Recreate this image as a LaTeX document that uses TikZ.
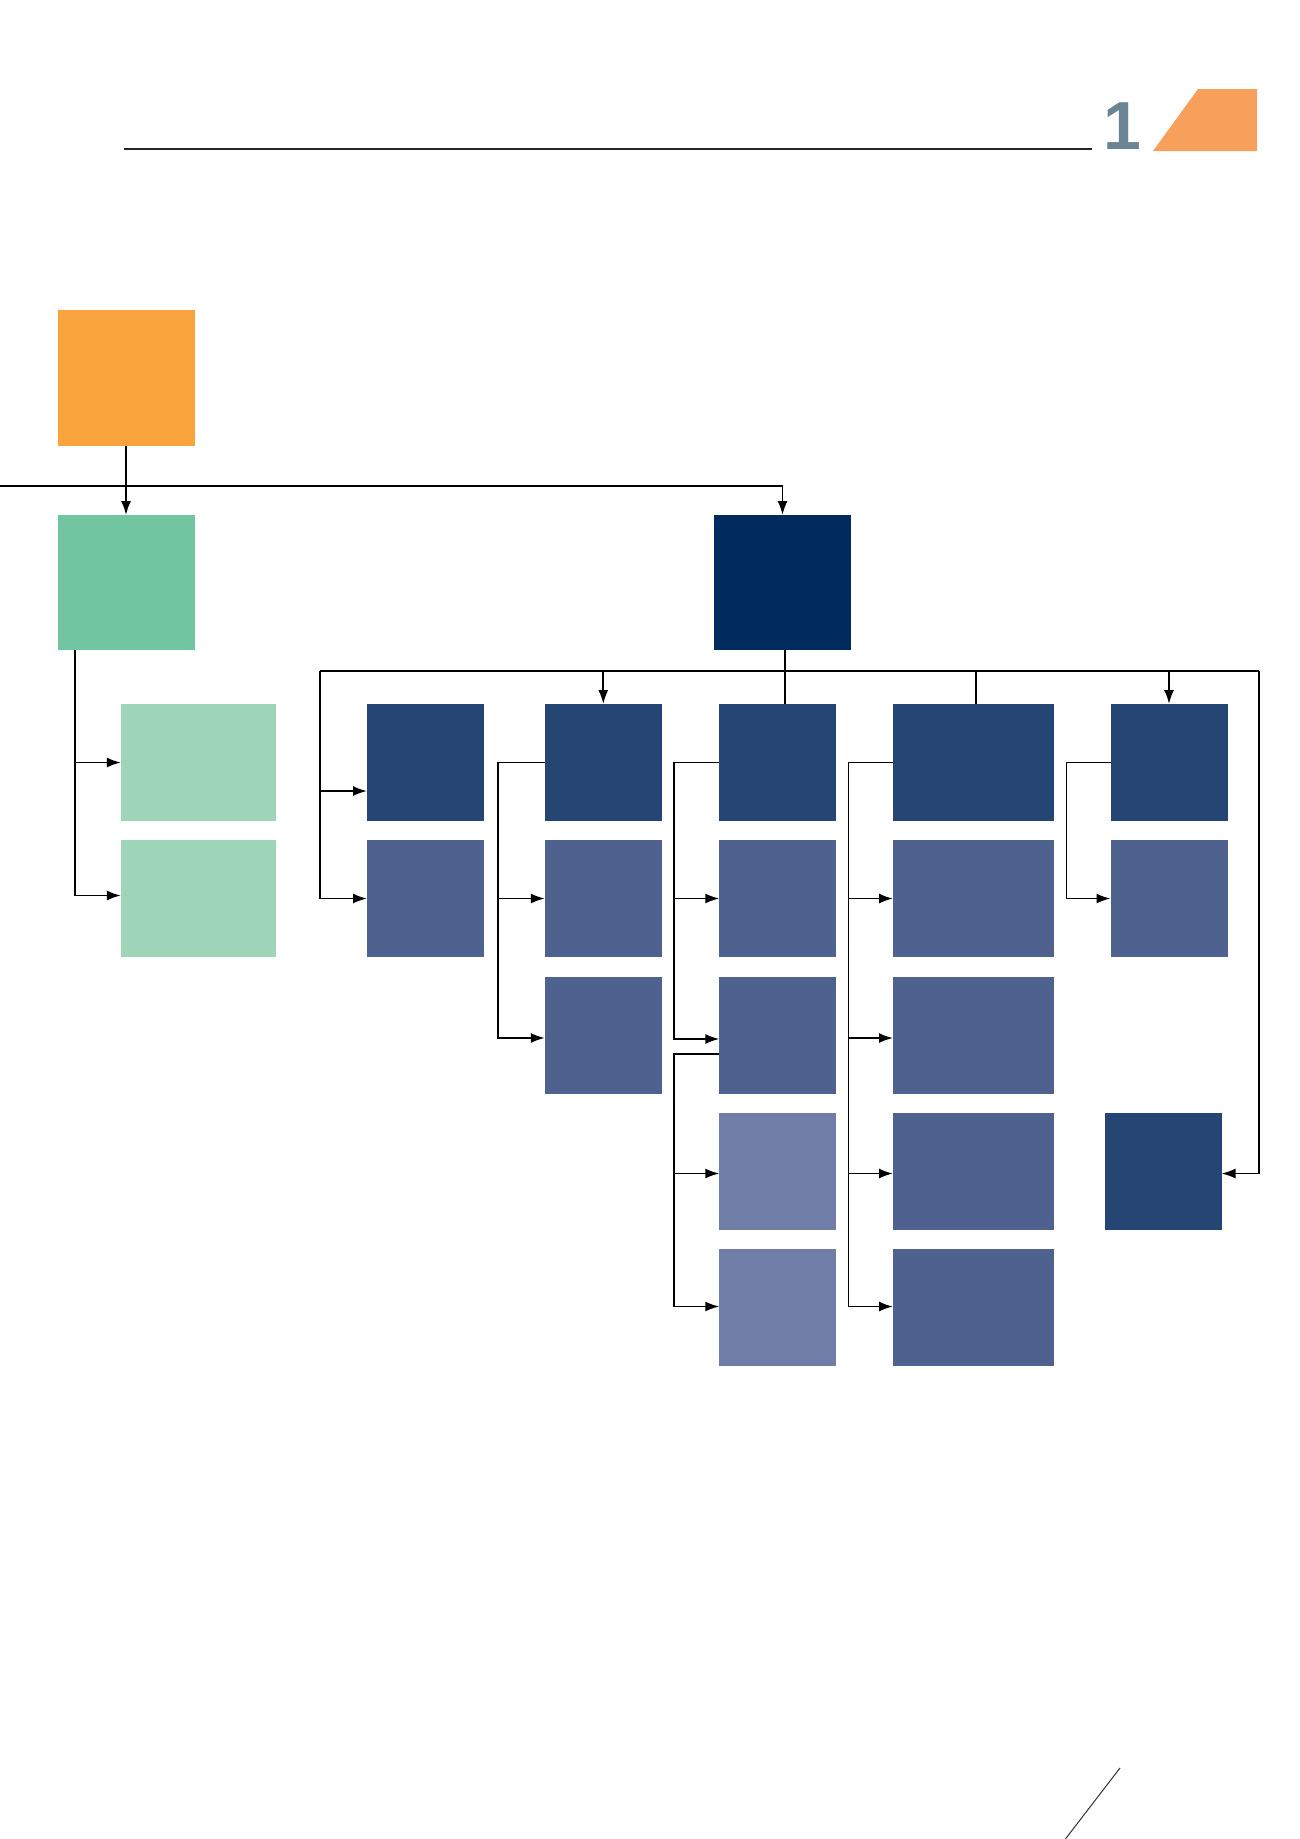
\documentclass[tikz,border=0pt]{standalone}
\usepackage{fontspec}
\setmainfont{Liberation Sans}
\usetikzlibrary{arrows.meta}
\definecolor{orangebox}{HTML}{F8A33B}
\definecolor{greenbox}{HTML}{71C6A1}
\definecolor{lightgreen}{HTML}{9ED5B9}
\definecolor{navybox}{HTML}{012A5E}
\definecolor{darkblue}{HTML}{254575}
\definecolor{midblue}{HTML}{4F628F}
\definecolor{lightblue}{HTML}{707EA7}
\definecolor{accent}{HTML}{F7A05B}
\definecolor{numcol}{HTML}{6B8494}
\begin{document}
\begin{tikzpicture}[x=1pt,y=-1pt,
  box/.style={inner sep=0pt,outer sep=0pt,draw=none},
  big/.style={box,minimum width=137pt,minimum height=136pt},
  sq/.style={box,minimum width=117pt,minimum height=117pt},
  wide/.style={box,minimum width=161pt,minimum height=117pt},
  lg/.style={box,minimum width=155pt,minimum height=117pt,fill=lightgreen},
  conn/.style={line width=1.8pt,black},
  arr/.style={conn,-{Latex[length=14pt,width=10pt]}}]
\useasboundingbox[fill=white] (0,0) rectangle (1300,1839);
% header
\draw[line width=1.2pt,black!85] (124,149) -- (1092,149);
\node[anchor=base,inner sep=0pt,text=numcol,font=\bfseries\fontsize{68}{68}\selectfont] (num) at (1122,149) {1};
\fill[accent] (1198,89) -- (1257,89) -- (1257,151) -- (1153,151) -- cycle;
% top level
\node[big,fill=orangebox] (orange) at (126,378) {};
\node[big,fill=greenbox,minimum height=135pt] (green) at (126,582.5) {};
\node[big,fill=navybox,minimum height=135pt] (navy) at (782.5,582.5) {};
\node[lg] (lg1) at (198.4,762.5) {};
\node[lg] (lg2) at (198.4,898.5) {};
% column 1
\node[sq,fill=darkblue] (c1r1) at (425.5,762.5) {};
\node[sq,fill=midblue] (c1r2) at (425.5,898.5) {};
% column 2
\node[sq,fill=darkblue] (c2r1) at (603.3,762.5) {};
\node[sq,fill=midblue] (c2r2) at (603.3,898.5) {};
\node[sq,fill=midblue] (c2r3) at (603.3,1035) {};
% column 3
\node[sq,fill=darkblue] (c3r1) at (777.8,762.5) {};
\node[sq,fill=midblue] (c3r2) at (777.8,898.5) {};
\node[sq,fill=midblue] (c3r3) at (777.8,1035) {};
\node[sq,fill=lightblue] (c3r4) at (777.8,1171.5) {};
\node[sq,fill=lightblue] (c3r5) at (777.8,1307.5) {};
% column 4
\node[wide,fill=darkblue] (c4r1) at (973.5,762.5) {};
\node[wide,fill=midblue] (c4r2) at (973.5,898.5) {};
\node[wide,fill=midblue] (c4r3) at (973.5,1035) {};
\node[wide,fill=midblue] (c4r4) at (973.5,1171.5) {};
\node[wide,fill=midblue] (c4r5) at (973.5,1307.5) {};
% column 5
\node[sq,fill=darkblue] (c5r1) at (1169,762.5) {};
\node[sq,fill=midblue] (c5r2) at (1169,898.5) {};
\node[sq,fill=darkblue] (c5b) at (1163,1171.5) {};
% connectors: top
\coordinate (hl) at (0,486);
\draw[arr] (hl) -| (navy.north);
\draw[arr] (orange.south) -- (green.north);
\draw[arr] ([xshift=17.5pt]green.south west) |- (lg1.west);
\draw[arr] ([xshift=17.5pt]green.south west) |- ([yshift=3pt]lg2.west);
% bus
\coordinate (busL) at (320,671);
\coordinate (busR) at (1259,671);
\draw[conn] (busL) -- (busR);
\draw[conn] ([xshift=2.5pt]navy.south) -- ([xshift=2.5pt]navy.south |- c3r1.north);
\draw[conn] ([xshift=2.5pt]c4r1.north |- busL) -- ([xshift=2.5pt]c4r1.north);
\draw[arr] (c2r1.north |- busL) -- (c2r1.north);
\draw[arr] (c5r1.north |- busL) -- (c5r1.north);
\draw[arr] (busR) |- ([yshift=-2pt]c5b.east);
% column 1
\draw[arr] (busL) |- ([yshift=-28.5pt]c1r1.west);
\draw[arr] (busL) |- (c1r2.west);
% column 2
\draw[arr] (c2r1.west) -- ++(-46.5,0) |- (c2r2.west);
\draw[arr] (c2r1.west) -- ++(-46.5,0) |- ([yshift=-3pt]c2r3.west);
% column 3
\draw[arr] (c3r1.west) -- ++(-45.7,0) |- (c3r2.west);
\draw[arr] (c3r1.west) -- ++(-45.7,0) |- ([yshift=-4pt]c3r3.west);
\draw[arr] ([yshift=-19pt]c3r3.west) -- ++(-45.7,0) |- ([yshift=-2pt]c3r4.west);
\draw[arr] ([yshift=-19pt]c3r3.west) -- ++(-45.7,0) |- ([yshift=1pt]c3r5.west);
% column 4
\draw[arr] (c4r1.west) -- ++(-44.5,0) |- (c4r2.west);
\draw[arr] (c4r1.west) -- ++(-44.5,0) |- ([yshift=-3pt]c4r3.west);
\draw[arr] (c4r1.west) -- ++(-44.5,0) |- ([yshift=-2pt]c4r4.west);
\draw[arr] (c4r1.west) -- ++(-44.5,0) |- ([yshift=1pt]c4r5.west);
% column 5
\draw[arr] (c5r1.west) -- ++(-44,0) |- (c5r2.west);
% bottom-right mark
\draw[line width=1pt,black!80] (1120,1768) -- (1060,1846);
\end{tikzpicture}
\end{document}
